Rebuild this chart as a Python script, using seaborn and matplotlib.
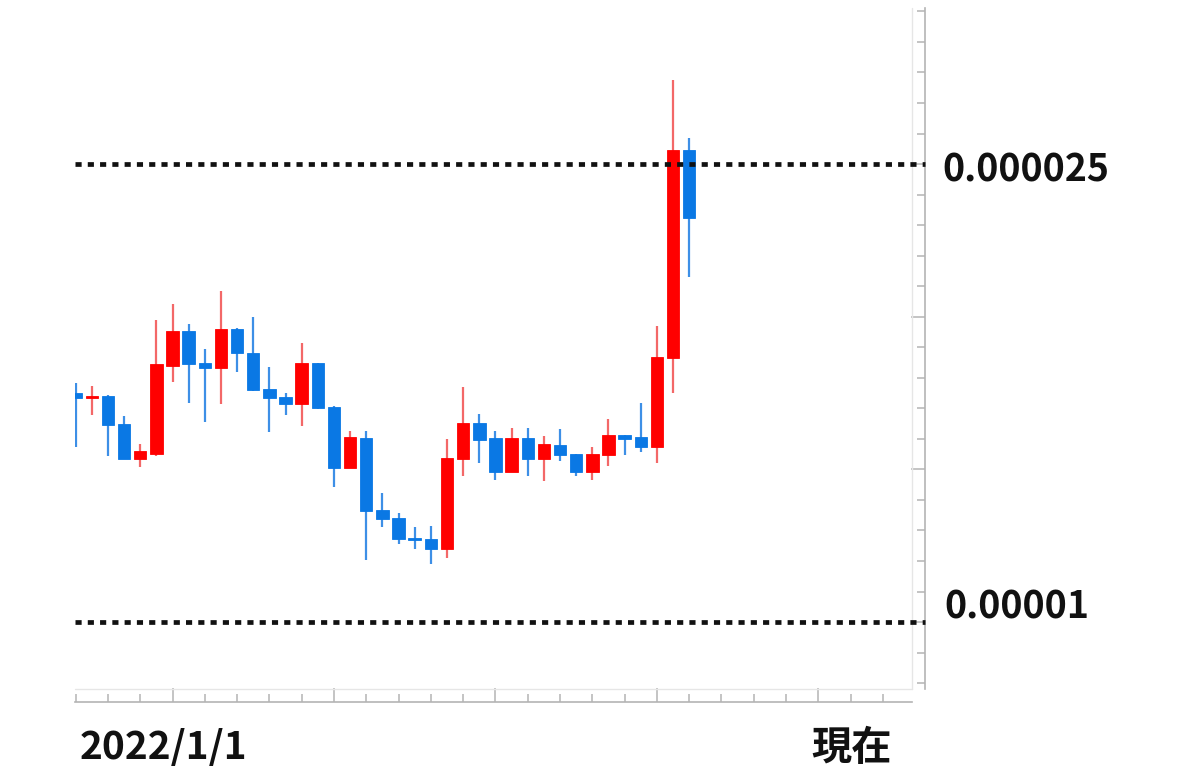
import numpy as np
import pandas as pd
import seaborn as sns
import matplotlib.pyplot as plt
from matplotlib.ticker import FixedLocator

# OHLC values (x 1e-6)
opens = [17.49, 17.33, 17.42, 16.49, 15.34, 15.52, 18.39, 19.52, 18.50, 18.31,
         19.59, 18.82, 17.65, 17.36, 17.13, 18.49, 17.05, 15.05, 16.04, 13.67,
         13.41, 12.77, 12.71, 12.41, 15.34, 16.51, 16.02, 14.92, 16.04, 15.34,
         15.79, 15.50, 14.93, 15.48, 16.13, 16.05, 15.72, 18.66, 25.46]
highs = [17.84, 17.73, 17.43, 16.76, 15.83, 19.89, 20.41, 19.76, 18.95, 20.85,
         19.62, 20.00, 18.36, 17.51, 19.13, 18.50, 17.07, 16.26, 16.26, 14.23,
         13.56, 13.10, 13.14, 15.98, 17.69, 16.80, 16.25, 16.36, 16.36, 16.09,
         16.31, 15.50, 15.74, 16.64, 16.13, 17.18, 19.70, 27.75, 25.87]
lows = [15.74, 16.78, 15.45, 15.34, 15.07, 15.45, 17.87, 17.19, 16.56, 17.13,
        18.18, 17.57, 16.23, 16.78, 16.42, 16.99, 14.43, 15.05, 12.05, 13.12,
        12.55, 12.38, 11.90, 12.10, 14.79, 15.20, 14.65, 14.92, 14.78, 14.63,
        15.26, 14.78, 14.67, 15.11, 15.47, 15.57, 15.20, 17.51, 21.29]
closes = [17.33, 17.40, 16.45, 15.34, 15.59, 18.44, 19.52, 18.45, 18.31, 19.59,
          18.80, 17.60, 17.33, 17.13, 18.49, 17.00, 15.05, 16.06, 13.63, 13.37,
          12.72, 12.68, 12.41, 15.39, 16.51, 15.96, 14.92, 16.02, 15.34, 15.82,
          15.48, 14.93, 15.52, 16.12, 16.00, 15.73, 18.69, 25.46, 23.22]

levels = [0.000025, 0.00001]
level_labels = ["0.000025", "0.00001"]
start_label = "2022/1/1"
end_label = "現在"

df = pd.DataFrame({"open": opens, "high": highs, "low": lows, "close": closes}) * 1e-6
df["idx"] = np.arange(len(df))
df["up"] = df["close"] >= df["open"]

sns.set_theme(style="white")
plt.rcParams['font.family'] = ['Noto Sans CJK JP', 'DejaVu Sans']

RED, RED_W = "#ff0000", "#f36868"
BLUE, BLUE_W = "#0a78e4", "#3d8fe6"
AXIS = "#b4b4b4"

fig = plt.figure(figsize=(12, 7.8), dpi=100)
ax = fig.add_axes([0.0625, 0.1167, 0.6975, 0.873])

body_col = np.where(df["up"], RED, BLUE)
wick_col = np.where(df["up"], RED_W, BLUE_W)

ax.vlines(df["idx"], df["low"], df["high"], colors=wick_col, lw=1.6, zorder=2)
bottoms = df[["open", "close"]].min(axis=1)
heights = (df["close"] - df["open"]).abs()
ax.bar(df["idx"], heights, bottom=bottoms, width=0.77, color=body_col,
       edgecolor=body_col, linewidth=0.6, zorder=3)

ax.set_xlim(-0.04, 51.8)
ax.set_ylim(7.81e-6, 30.11e-6)

# dotted reference levels
for lv in levels:
    ax.plot([0, 1.0155], [lv, lv], transform=ax.get_yaxis_transform(),
            color="#111111", lw=3.4, linestyle=(0, (1.3, 1.3)),
            dash_capstyle="butt", clip_on=False, zorder=4)

# faint plot border
ax.plot([1, 1], [0, 1], transform=ax.transAxes, color="#e6e6e6", lw=1, clip_on=False)
ax.plot([0, 1], [0, 0], transform=ax.transAxes, color="#e6e6e6", lw=1, clip_on=False)

for s in ["left", "top"]:
    ax.spines[s].set_visible(False)
for s in ["right", "bottom"]:
    ax.spines[s].set_position(("outward", 9.4))
    ax.spines[s].set_color(AXIS)
    ax.spines[s].set_linewidth(1.2)

ax.yaxis.tick_right()
ax.yaxis.set_major_locator(FixedLocator([10e-6, 15e-6, 20e-6, 25e-6]))
ax.yaxis.set_minor_locator(FixedLocator([v * 1e-6 for v in range(8, 31)]))
ax.xaxis.set_major_locator(FixedLocator([6, 16, 26, 36, 46]))
ax.xaxis.set_minor_locator(FixedLocator(list(range(0, 52, 2))))
ax.tick_params(which="both", direction="in", color=AXIS, width=1.1,
               bottom=True, right=True, left=False, top=False,
               labelleft=False, labelright=False, labelbottom=False)
ax.tick_params(which="major", length=10)
ax.tick_params(which="minor", length=5.5)

fig.text(942 / 1200, 1 - 170 / 780, level_labels[0], fontsize=27,
         fontweight="bold", ha="left", va="center", color="#111111")
fig.text(944 / 1200, 1 - 607 / 780, level_labels[1], fontsize=27,
         fontweight="bold", ha="left", va="center", color="#111111")
fig.text(80 / 1200, 1 - 748 / 780, start_label, fontsize=28,
         fontweight="bold", ha="left", va="center", color="#111111")
fig.text(852 / 1200, 1 - 749 / 780, end_label, fontsize=29,
         fontweight="bold", ha="center", va="center", color="#111111")

fig.savefig("out.png", dpi=100)
